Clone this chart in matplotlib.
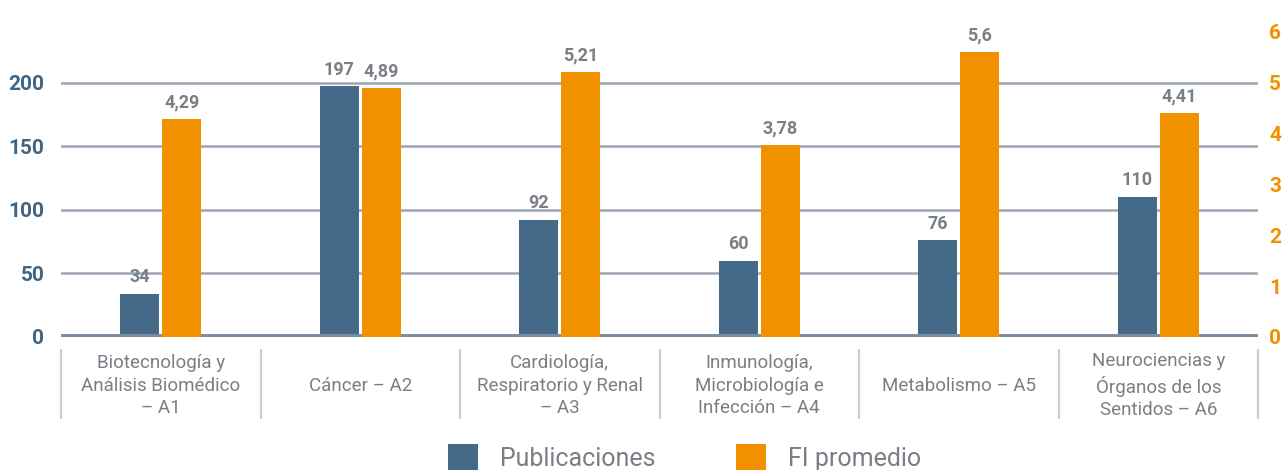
import matplotlib
matplotlib.use("Agg")
import matplotlib.pyplot as plt
from matplotlib.patches import Patch
from matplotlib.lines import Line2D
import numpy as np

categories = ["Biotecnología y\nAnálisis Biomédico\n– A1", "Cáncer – A2",
              "Cardiología,\nRespiratorio y Renal\n– A3",
              "Inmunología,\nMicrobiología e\nInfección – A4",
              "Metabolismo – A5",
              "Neurociencias y\nÓrganos de los\nSentidos – A6"]
publicaciones = [34, 197, 92, 60, 76, 110]
fi_promedio = [4.29, 4.89, 5.21, 3.78, 5.6, 4.41]
fi_labels = ["4,29", "4,89", "5,21", "3,78", "5,6", "4,41"]
left_ticks = [0, 50, 100, 150, 200]
right_ticks = [0, 1, 2, 3, 4, 5, 6]

BLUE = "#456a88"
ORANGE = "#f29100"
GRAY = "#7a7f85"
GRID = "#9aa6b3"

plt.rcParams['font.family'] = ['Roboto', 'DejaVu Sans']

fig = plt.figure(figsize=(12.82, 4.70), dpi=100)
ax = fig.add_axes([61/1282, 133/470, (1258-61)/1282, (337-19)/470])
ax2 = ax.twinx()

x = np.arange(len(categories))
w = 0.195
off = 0.105
ax.bar(x - off, publicaciones, w, color=BLUE, zorder=3)
ax2.bar(x + off, fi_promedio, w, color=ORANGE, zorder=3)

ax.set_xlim(-0.5, len(categories) - 0.5)
ax.set_ylim(0, 250)
ax2.set_ylim(0, 6.25)

for v in left_ticks[1:]:
    ax.axhline(v, color=GRID, lw=1.8, zorder=1)
ax.axhline(0, color="#7d8da0", lw=5, zorder=4)

ax.set_yticks(left_ticks)
ax.set_yticklabels([str(t) for t in left_ticks], fontsize=15, fontweight='bold', color="#3f6585")
ax2.set_yticks(right_ticks)
ax2.set_yticklabels([str(t) for t in right_ticks], fontsize=15, fontweight='bold', color=ORANGE)
ax.tick_params(axis='y', length=0, pad=12)
ax2.tick_params(axis='y', length=0, pad=8)
ax.set_xticks([])
for a in (ax, ax2):
    for s in a.spines.values():
        s.set_visible(False)

for xi, v in zip(x, publicaciones):
    ax.text(xi - off, v + 6, str(v), ha='center', va='bottom', fontsize=13,
            fontweight='bold', color=GRAY, zorder=5)
for xi, v, lab in zip(x, fi_promedio, fi_labels):
    ax2.text(xi + off, v + 0.15, lab, ha='center', va='bottom', fontsize=13,
             fontweight='bold', color=GRAY, zorder=5)

# category labels and separators
trans = ax.get_xaxis_transform()
for xi, cat in zip(x, categories):
    ax.text(xi, -0.153, cat, transform=trans, ha='center', va='center',
            fontsize=13.5, color=GRAY, linespacing=1.33, clip_on=False)
for b in np.arange(-0.5, len(categories), 1.0):
    ax.add_line(Line2D([b, b], [-0.04, -0.255], transform=trans, color="#c9cdd3",
                       lw=1.5, clip_on=False))

handles = [Patch(facecolor=BLUE, label="Publicaciones"),
           Patch(facecolor=ORANGE, label="FI promedio")]
fig.legend(handles=handles, loc='lower center', bbox_to_anchor=(0.534, -0.05),
           ncol=2, frameon=False, fontsize=18, handlelength=1.2, handleheight=1.25,
           columnspacing=3.2, handletextpad=0.9, labelcolor=GRAY)

fig.savefig("out.png", dpi=100)
